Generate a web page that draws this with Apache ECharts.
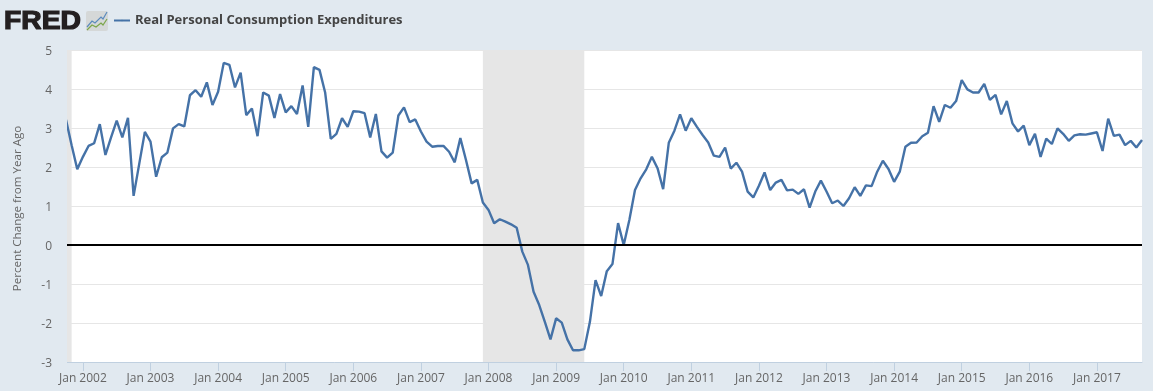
<!DOCTYPE html>
<html>
<head>
<meta charset="utf-8">
<style>
html, body { margin: 0; padding: 0; background: #e1e9f0; }
#chart { width: 1153px; height: 391px; }
</style>
<script src="https://cdn.jsdelivr.net/npm/echarts@6/dist/echarts.min.js"></script>
</head>
<body>
<div id="chart"></div>
<script>
var monthNames = ['Jan','Feb','Mar','Apr','May','Jun','Jul','Aug','Sep','Oct','Nov','Dec'];

// percent change from year ago, monthly, Oct 2001 to Sep 2017
var pceValues = [
    3.21, 2.56, 1.94, 2.26, 2.54, 2.61, 3.10, 2.31, 2.76, 3.19, 2.76, 3.26,
    1.26, 2.08, 2.90, 2.65, 1.75, 2.25, 2.37, 2.99, 3.10, 3.04, 3.84, 3.97,
    3.80, 4.17, 3.59, 3.93, 4.67, 4.62, 4.04, 4.42, 3.33, 3.50, 2.79, 3.91,
    3.83, 3.26, 3.87, 3.40, 3.56, 3.36, 4.09, 3.03, 4.56, 4.49, 3.91, 2.72,
    2.85, 3.25, 3.03, 3.43, 3.42, 3.38, 2.76, 3.36, 2.40, 2.24, 2.37, 3.32,
    3.53, 3.15, 3.22, 2.91, 2.65, 2.52, 2.54, 2.54, 2.39, 2.12, 2.74, 2.18,
    1.58, 1.67, 1.09, 0.90, 0.56, 0.66, 0.60, 0.53, 0.44, -0.17, -0.51, -1.20,
    -1.54, -1.97, -2.42, -1.88, -1.99, -2.42, -2.70, -2.70, -2.67, -1.97, -0.90, -1.31,
    -0.67, -0.49, 0.56, 0.00, 0.64, 1.41, 1.71, 1.94, 2.26, 1.97, 1.43, 2.62,
    2.93, 3.35, 2.93, 3.25, 3.03, 2.82, 2.63, 2.29, 2.26, 2.50, 1.96, 2.11,
    1.88, 1.37, 1.22, 1.52, 1.86, 1.41, 1.60, 1.67, 1.40, 1.42, 1.31, 1.43,
    0.96, 1.37, 1.65, 1.37, 1.07, 1.14, 1.00, 1.20, 1.48, 1.26, 1.53, 1.51,
    1.88, 2.16, 1.95, 1.62, 1.88, 2.52, 2.62, 2.63, 2.79, 2.88, 3.56, 3.16,
    3.59, 3.52, 3.69, 4.23, 3.99, 3.91, 3.91, 4.13, 3.72, 3.85, 3.35, 3.69,
    3.12, 2.91, 3.06, 2.56, 2.85, 2.26, 2.73, 2.59, 2.99, 2.85, 2.67, 2.81,
    2.84, 2.83, 2.86, 2.89, 2.41, 3.24, 2.80, 2.83, 2.56, 2.67, 2.50, 2.69
];

var months = [];
for (var i = 0; i < pceValues.length; i++) {
    var m = 9 + i;
    months.push(monthNames[m % 12] + ' ' + (2001 + Math.floor(m / 12)));
}

var recessions = [['Oct 2001', 'Nov 2001'], ['Dec 2007', 'Jun 2009']];
var yTicks = { min: -3, max: 5, step: 1 };

function isJanuary(index, name) {
    return name.indexOf('Jan') === 0;
}

var chart = echarts.init(document.getElementById('chart'), null, { renderer: 'canvas' });

var fontName = '"Open Sans", sans-serif';

var option = {
    backgroundColor: '#e1e9f0',
    animation: false,
    color: ['#4572a7'],
    textStyle: { fontFamily: fontName },
    legend: {
        left: 113,
        top: 14,
        padding: 0,
        itemWidth: 16,
        itemHeight: 2,
        itemGap: 5,
        selectedMode: false,
        textStyle: { color: '#444', fontWeight: 'bold', fontSize: 13, fontFamily: fontName },
        data: ['Real Personal Consumption Expenditures']
    },
    grid: {
        left: 66,
        right: 11,
        top: 50,
        bottom: 29,
        show: true,
        backgroundColor: '#fff',
        borderWidth: 0
    },
    xAxis: {
        type: 'category',
        boundaryGap: false,
        data: months,
        axisLine: { onZero: false, lineStyle: { color: '#c0d0e0', width: 1 } },
        axisTick: { interval: isJanuary, length: 9, lineStyle: { color: '#c0d0e0' } },
        axisLabel: { interval: isJanuary, color: '#666', fontSize: 12, margin: 11 },
        splitLine: { show: false }
    },
    yAxis: {
        type: 'value',
        min: yTicks.min,
        max: yTicks.max,
        interval: yTicks.step,
        name: 'Percent Change from Year Ago',
        nameLocation: 'middle',
        nameGap: 42,
        nameTextStyle: { color: '#666', fontSize: 11.6, padding: [0, 5, 0, 0] },
        axisLine: { show: false },
        axisTick: { show: false },
        axisLabel: { color: '#666', fontSize: 12, margin: 14, verticalAlign: 'top', lineHeight: 3 },
        splitLine: { lineStyle: { color: '#e6e6e6', width: 1 } }
    },
    series: [
        {
            name: 'Real Personal Consumption Expenditures',
            type: 'line',
            data: pceValues,
            showSymbol: false,
            symbol: 'none',
            lineStyle: { width: 2.4, color: '#4572a7' },
            markArea: {
                silent: true,
                itemStyle: { color: '#e6e6e6' },
                data: recessions.map(function (r) {
                    return [{ xAxis: r[0] }, { xAxis: r[1] }];
                })
            },
            markLine: {
                silent: true,
                symbol: 'none',
                label: { show: false },
                lineStyle: { color: '#000', width: 2, type: 'solid' },
                data: [{ yAxis: 0 }]
            }
        }
    ],
    graphic: [
        {
            // plot edge in the original sits just right of the first month
            type: 'rect',
            z: 100,
            shape: { x: 63, y: 48, width: 4, height: 316 },
            style: { fill: '#e1e9f0' }
        },
        {
            type: 'text',
            x: 4,
            y: 10,
            scaleX: 1.13,
            style: {
                text: 'FRED',
                fill: '#231f20',
                stroke: '#231f20',
                lineWidth: 1.2,
                font: 'bold 25px "Liberation Sans", sans-serif'
            }
        },
        {
            type: 'rect',
            shape: { x: 86, y: 11, width: 22, height: 20, r: 2 },
            style: { fill: '#d5d8d8' }
        },
        {
            type: 'polyline',
            shape: { points: [[87, 27], [92, 21], [95, 23], [101, 17], [103, 19], [107, 12]] },
            style: { stroke: '#5b8bbd', lineWidth: 1.2, fill: null }
        },
        {
            type: 'polyline',
            shape: { points: [[87, 30], [92, 25], [96, 27], [101, 23], [103, 25], [107, 19]] },
            style: { stroke: '#7ba64a', lineWidth: 1.2, fill: null }
        }
    ]
};

chart.setOption(option);
</script>
</body>
</html>
